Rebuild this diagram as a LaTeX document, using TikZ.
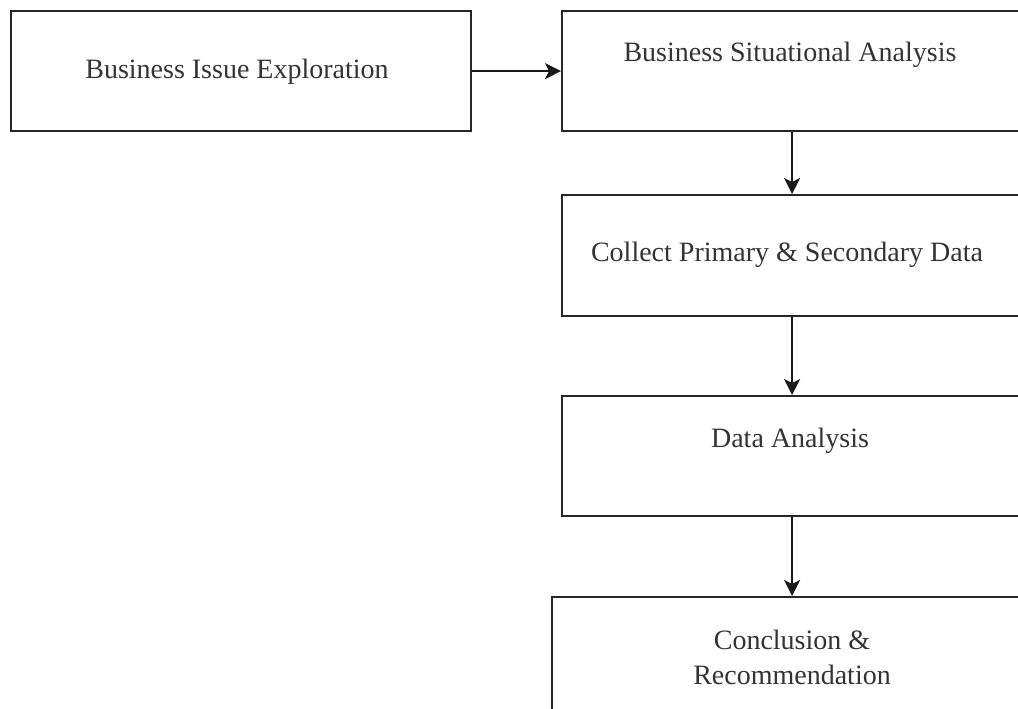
\documentclass[tikz,border=0pt]{standalone}
\usepackage{fontspec}
\setmainfont{Liberation Serif}
\usetikzlibrary{arrows.meta}
\begin{document}
\begin{tikzpicture}[x=1pt,y=-1pt,
  box/.style={draw=black!85, line width=2.2pt, rectangle, anchor=north west, inner sep=0pt},
  lbl/.style={font=\fontsize{28}{35}\selectfont, text=black!80, align=center, inner sep=0pt},
  arr/.style={draw=black!90, line width=2pt, -{Stealth[length=16pt,width=16pt,inset=4pt]}}]
\useasboundingbox (0,0) rectangle (1018,709);
\clip (0,0) rectangle (1018,709);
\fill[white] (0,0) rectangle (1018,709);
\node[box, minimum width=460pt, minimum height=120pt] (b1) at (10,10) {};
\node[box, minimum width=460pt, minimum height=120pt] (b2) at (561,10) {};
\node[box, minimum width=460pt, minimum height=121pt] (b3) at (561,194) {};
\node[box, minimum width=460pt, minimum height=120pt] (b4) at (561,395) {};
\node[box, minimum width=480pt, minimum height=160pt] (b5) at (551,596) {};
\node[lbl] (t1) at (237,72) {Business Issue Exploration};
\node[lbl] (t2) at (790,55) {Business Situational Analysis};
\node[lbl] (t3) at (787,255) {Collect Primary \& Secondary Data};
\node[lbl] (t4) at (790,441) {Data Analysis};
\node[lbl] (t5) at (792,657) {Conclusion \&\\Recommendation};
\draw[arr] (b1.east) -- (b2.west);
\draw[arr] (b2.south) -- (b3.north);
\draw[arr] (b3.south) -- (b4.north);
\draw[arr] (b4.south) -- (b5.north);
\end{tikzpicture}
\end{document}
